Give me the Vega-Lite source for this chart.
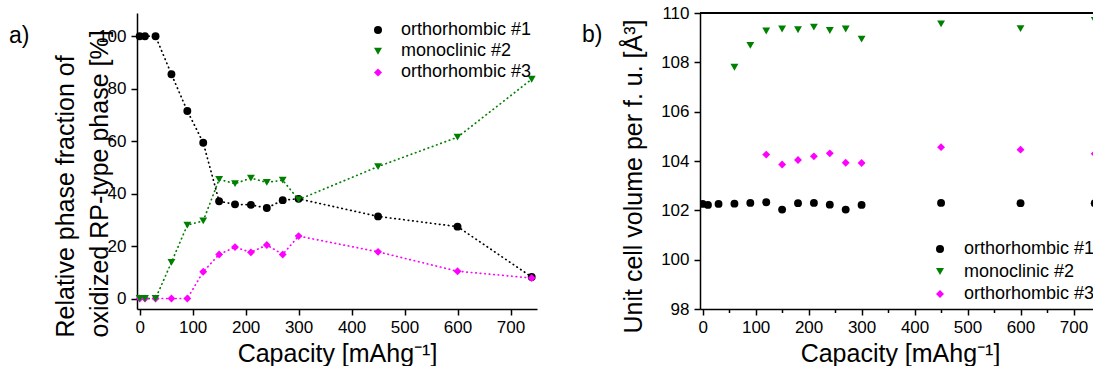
{
  "$schema": "https://vega.github.io/schema/vega-lite/v6.json",
  "padding": {"left": 9, "top": 4, "right": 0, "bottom": 0},
  "bounds": "flush",
  "spacing": 163,
  "resolve": {
    "scale": {"color": "independent", "shape": "independent"},
    "legend": {"color": "independent", "shape": "independent"}
  },
  "config": {
    "font": "Liberation Sans",
    "view": {"stroke": null},
    "axis": {
      "domainColor": "black", "domainWidth": 1.5, "tickColor": "black", "tickWidth": 1.5,
      "labelColor": "black", "labelFontSize": 17, "labelFont": "Liberation Sans",
      "titleFont": "Liberation Sans", "titleFontSize": 25, "titleFontWeight": "normal", "titleColor": "black",
      "grid": false, "labelPadding": 4, "labelOverlap": false, "labelBound": false, "labelFlush": false
    },
    "title": {"font": "Liberation Sans", "fontSize": 23, "fontWeight": "normal", "color": "black"}
  },
  "datasets": {
    "a": [
      {"phase": "orthorhombic #1", "cap": 0, "frac": 100},
      {"phase": "orthorhombic #1", "cap": 10, "frac": 100},
      {"phase": "orthorhombic #1", "cap": 30, "frac": 100},
      {"phase": "orthorhombic #1", "cap": 60, "frac": 85.5},
      {"phase": "orthorhombic #1", "cap": 90, "frac": 71.5},
      {"phase": "orthorhombic #1", "cap": 120, "frac": 59.4},
      {"phase": "orthorhombic #1", "cap": 150, "frac": 37.1},
      {"phase": "orthorhombic #1", "cap": 180, "frac": 35.9},
      {"phase": "orthorhombic #1", "cap": 210, "frac": 35.7},
      {"phase": "orthorhombic #1", "cap": 240, "frac": 34.5},
      {"phase": "orthorhombic #1", "cap": 270, "frac": 37.5},
      {"phase": "orthorhombic #1", "cap": 300, "frac": 38},
      {"phase": "orthorhombic #1", "cap": 450, "frac": 31.3},
      {"phase": "orthorhombic #1", "cap": 600, "frac": 27.4},
      {"phase": "orthorhombic #1", "cap": 740, "frac": 8.2},
      {"phase": "orthorhombic #3", "cap": 0, "frac": 0},
      {"phase": "orthorhombic #3", "cap": 10, "frac": 0},
      {"phase": "orthorhombic #3", "cap": 30, "frac": 0},
      {"phase": "orthorhombic #3", "cap": 60, "frac": 0},
      {"phase": "orthorhombic #3", "cap": 90, "frac": 0},
      {"phase": "orthorhombic #3", "cap": 120, "frac": 10.2},
      {"phase": "orthorhombic #3", "cap": 150, "frac": 16.8},
      {"phase": "orthorhombic #3", "cap": 180, "frac": 19.6},
      {"phase": "orthorhombic #3", "cap": 210, "frac": 17.6},
      {"phase": "orthorhombic #3", "cap": 240, "frac": 20.4},
      {"phase": "orthorhombic #3", "cap": 270, "frac": 16.8},
      {"phase": "orthorhombic #3", "cap": 300, "frac": 23.8},
      {"phase": "orthorhombic #3", "cap": 450, "frac": 17.8},
      {"phase": "orthorhombic #3", "cap": 600, "frac": 10.4},
      {"phase": "orthorhombic #3", "cap": 740, "frac": 7.8},
      {"phase": "monoclinic #2", "cap": 0, "frac": 0},
      {"phase": "monoclinic #2", "cap": 10, "frac": 0},
      {"phase": "monoclinic #2", "cap": 30, "frac": 0},
      {"phase": "monoclinic #2", "cap": 60, "frac": 13.8},
      {"phase": "monoclinic #2", "cap": 90, "frac": 28},
      {"phase": "monoclinic #2", "cap": 120, "frac": 29.6},
      {"phase": "monoclinic #2", "cap": 150, "frac": 45.4},
      {"phase": "monoclinic #2", "cap": 180, "frac": 43.8},
      {"phase": "monoclinic #2", "cap": 210, "frac": 45.9},
      {"phase": "monoclinic #2", "cap": 240, "frac": 44.3},
      {"phase": "monoclinic #2", "cap": 270, "frac": 45.1},
      {"phase": "monoclinic #2", "cap": 300, "frac": 37.7},
      {"phase": "monoclinic #2", "cap": 450, "frac": 50.3},
      {"phase": "monoclinic #2", "cap": 600, "frac": 61.5},
      {"phase": "monoclinic #2", "cap": 740, "frac": 83.6}
    ],
    "b": [
      {"phase": "orthorhombic #1", "cap": 0, "vol": 102.26},
      {"phase": "orthorhombic #1", "cap": 10, "vol": 102.22},
      {"phase": "orthorhombic #1", "cap": 30, "vol": 102.26},
      {"phase": "orthorhombic #1", "cap": 60, "vol": 102.27},
      {"phase": "orthorhombic #1", "cap": 90, "vol": 102.3},
      {"phase": "orthorhombic #1", "cap": 120, "vol": 102.33},
      {"phase": "orthorhombic #1", "cap": 150, "vol": 102.03},
      {"phase": "orthorhombic #1", "cap": 180, "vol": 102.29},
      {"phase": "orthorhombic #1", "cap": 210, "vol": 102.3},
      {"phase": "orthorhombic #1", "cap": 240, "vol": 102.23},
      {"phase": "orthorhombic #1", "cap": 270, "vol": 102.03},
      {"phase": "orthorhombic #1", "cap": 300, "vol": 102.22},
      {"phase": "orthorhombic #1", "cap": 450, "vol": 102.3},
      {"phase": "orthorhombic #1", "cap": 600, "vol": 102.29},
      {"phase": "orthorhombic #1", "cap": 740, "vol": 102.29},
      {"phase": "orthorhombic #3", "cap": 120, "vol": 104.26},
      {"phase": "orthorhombic #3", "cap": 150, "vol": 103.86},
      {"phase": "orthorhombic #3", "cap": 180, "vol": 104.04},
      {"phase": "orthorhombic #3", "cap": 210, "vol": 104.19},
      {"phase": "orthorhombic #3", "cap": 240, "vol": 104.31},
      {"phase": "orthorhombic #3", "cap": 270, "vol": 103.93},
      {"phase": "orthorhombic #3", "cap": 300, "vol": 103.92},
      {"phase": "orthorhombic #3", "cap": 450, "vol": 104.56},
      {"phase": "orthorhombic #3", "cap": 600, "vol": 104.46},
      {"phase": "orthorhombic #3", "cap": 740, "vol": 104.29},
      {"phase": "monoclinic #2", "cap": 60, "vol": 107.8},
      {"phase": "monoclinic #2", "cap": 90, "vol": 108.69},
      {"phase": "monoclinic #2", "cap": 120, "vol": 109.27},
      {"phase": "monoclinic #2", "cap": 150, "vol": 109.35},
      {"phase": "monoclinic #2", "cap": 180, "vol": 109.32},
      {"phase": "monoclinic #2", "cap": 210, "vol": 109.43},
      {"phase": "monoclinic #2", "cap": 240, "vol": 109.29},
      {"phase": "monoclinic #2", "cap": 270, "vol": 109.35},
      {"phase": "monoclinic #2", "cap": 300, "vol": 108.94},
      {"phase": "monoclinic #2", "cap": 450, "vol": 109.56},
      {"phase": "monoclinic #2", "cap": 600, "vol": 109.37},
      {"phase": "monoclinic #2", "cap": 740, "vol": 109.7}
    ]
  },
  "hconcat": [
    {
      "width": 400,
      "height": 296,
      "title": {"text": "a)", "orient": "top", "anchor": "start", "frame": "group", "offset": 0, "dx": -128, "dy": 46, "baseline": "middle"},
      "data": {"name": "a"},
      "layer": [
        {
          "mark": {"type": "line", "strokeDash": [0.5, 4], "strokeCap": "round", "strokeWidth": 1.7},
          "encoding": {
            "x": {"field": "cap", "type": "quantitative"},
            "y": {"field": "frac", "type": "quantitative"},
            "stroke": {"field": "phase", "type": "nominal", "scale": {"domain": ["orthorhombic #1", "monoclinic #2", "orthorhombic #3"], "range": ["#000000", "#008000", "#ff00ff"]}, "legend": null}
          }
        },
        {
          "mark": {"type": "point", "filled": true, "opacity": 1, "size": 62},
          "encoding": {
            "x": {
              "field": "cap", "type": "quantitative",
              "scale": {"domain": [-5, 750], "nice": false, "zero": false},
              "axis": {
                "values": [0, 50, 100, 150, 200, 250, 300, 350, 400, 450, 500, 550, 600, 650, 700],
                "labelExpr": "datum.value % 100 === 0 ? datum.label : ''",
                "tickSize": {"condition": {"test": "datum.value % 100 === 0", "value": 6}, "value": 3.5},
                "title": "Capacity [mAhg⁻¹]", "titleY": 52, "titleBaseline": "alphabetic"
              }
            },
            "y": {
              "field": "frac", "type": "quantitative",
              "scale": {"domain": [-4, 108.85], "nice": false, "zero": false},
              "axis": {
                "values": [0, 10, 20, 30, 40, 50, 60, 70, 80, 90, 100],
                "labelExpr": "datum.value % 20 === 0 ? datum.label : ''",
                "tickSize": {"condition": {"test": "datum.value % 20 === 0", "value": 6}, "value": 3.5},
                "labelPadding": 5,
                "title": ["Relative phase fraction of", "oxidized RP-type phase [%]"],
                "titleAngle": 270, "titleAlign": "left", "titleBaseline": "alphabetic",
                "titleX": -64, "titleY": 324, "titleLineHeight": 34
              }
            },
            "color": {
              "field": "phase", "type": "nominal",
              "scale": {"domain": ["orthorhombic #1", "monoclinic #2", "orthorhombic #3"], "range": ["#000000", "#008000", "#ff00ff"]},
              "legend": {
                "orient": "none", "legendX": 232, "legendY": 8, "title": null, "padding": 0,
                "labelFontSize": 18, "labelFont": "Liberation Sans", "labelColor": "black",
                "labelOffset": 14, "rowPadding": 3.2, "symbolSize": 64, "symbolStrokeWidth": 0
              }
            },
            "shape": {"field": "phase", "type": "nominal", "scale": {"domain": ["orthorhombic #1", "monoclinic #2", "orthorhombic #3"], "range": ["circle", "triangle-down", "diamond"]}}
          }
        }
      ]
    },
    {
      "width": 393,
      "height": 296,
      "title": {"text": "b)", "orient": "top", "anchor": "start", "frame": "group", "offset": 0, "dx": -118, "dy": 54, "baseline": "middle"},
      "data": {"name": "b"},
      "layer": [
        {
          "mark": {"type": "point", "filled": true, "opacity": 1, "clip": true, "size": 62},
          "encoding": {
            "x": {
              "field": "cap", "type": "quantitative",
              "scale": {"domain": [-5, 736.8], "nice": false, "zero": false},
              "axis": {
                "values": [0, 50, 100, 150, 200, 250, 300, 350, 400, 450, 500, 550, 600, 650, 700],
                "labelExpr": "datum.value % 100 === 0 ? datum.label : ''",
                "tickSize": {"condition": {"test": "datum.value % 100 === 0", "value": 6}, "value": 3.5},
                "title": "Capacity [mAhg⁻¹]", "titleY": 52, "titleBaseline": "alphabetic", "titleX": 200
              }
            },
            "y": {
              "field": "vol", "type": "quantitative",
              "scale": {"domain": [98, 110], "nice": false, "zero": false},
              "axis": {
                "values": [98, 99, 100, 101, 102, 103, 104, 105, 106, 107, 108, 109, 110],
                "labelExpr": "datum.value % 2 === 0 ? datum.label : ''",
                "tickSize": {"condition": {"test": "datum.value % 2 === 0", "value": 6}, "value": 3.5},
                "labelPadding": 5,
                "title": "Unit cell volume per f. u. [Å³]",
                "titleAngle": 270, "titleAlign": "left", "titleBaseline": "alphabetic",
                "titleX": -59, "titleY": 320
              }
            },
            "color": {
              "field": "phase", "type": "nominal",
              "scale": {"domain": ["orthorhombic #1", "monoclinic #2", "orthorhombic #3"], "range": ["#000000", "#008000", "#ff00ff"]},
              "legend": {
                "orient": "none", "legendX": 231, "legendY": 227, "title": null, "padding": 0,
                "labelFontSize": 18, "labelFont": "Liberation Sans", "labelColor": "black",
                "labelOffset": 15, "rowPadding": 4.5, "symbolSize": 64, "symbolStrokeWidth": 0
              }
            },
            "shape": {"field": "phase", "type": "nominal", "scale": {"domain": ["orthorhombic #1", "monoclinic #2", "orthorhombic #3"], "range": ["circle", "triangle-down", "diamond"]}}
          }
        },
        {
          "mark": {"type": "rule", "stroke": "#000000", "strokeWidth": 1.5},
          "encoding": {"y": {"datum": 110}}
        }
      ]
    }
  ]
}
